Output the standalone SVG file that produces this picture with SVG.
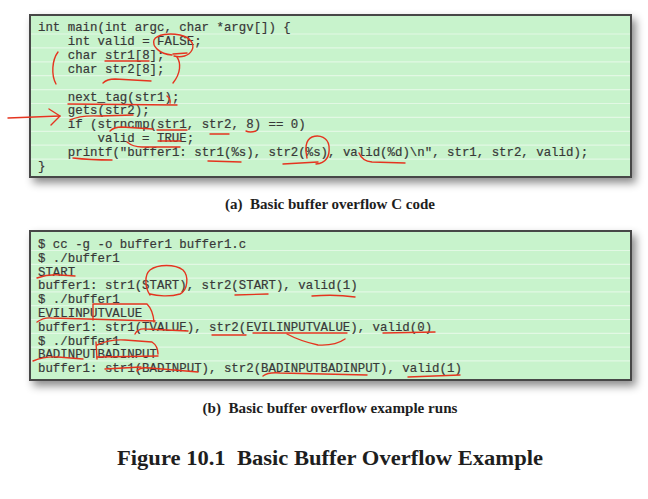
<svg xmlns="http://www.w3.org/2000/svg" width="648" height="499" viewBox="0 0 648 499">
<style>
.box{fill:#c8f3cc;stroke:#474747;stroke-width:2}
.rule{stroke:#e2f8e4;stroke-width:1.2}
.code{font-family:"Liberation Mono","Courier New",monospace;font-size:12.4px;fill:#383838;stroke:#383838;stroke-width:0.2}
.cap{font-family:"Liberation Serif","Times New Roman",serif;font-weight:bold;fill:#1e1e1e;text-anchor:middle;white-space:pre}
.ink{fill:none;stroke:#e5341f;stroke-width:1.4;stroke-linecap:round;stroke-linejoin:round}
</style>
<defs>
<filter id="sh" x="-5%" y="-10%" width="115%" height="130%">
<feDropShadow dx="4" dy="5" stdDeviation="4" flood-color="#000" flood-opacity="0.45"/>
</filter>
</defs>
<rect width="648" height="499" fill="#ffffff"/>

<g id="code-a">
<rect class="box" x="30" y="15" width="601" height="162" filter="url(#sh)"/>
<g class="rule">
<line x1="31" x2="630" y1="34" y2="34"/><line x1="31" x2="630" y1="47.9" y2="47.9"/>
<line x1="31" x2="630" y1="61.8" y2="61.8"/><line x1="31" x2="630" y1="75.7" y2="75.7"/>
<line x1="31" x2="630" y1="89.6" y2="89.6"/><line x1="31" x2="630" y1="103.5" y2="103.5"/>
<line x1="31" x2="630" y1="117.4" y2="117.4"/><line x1="31" x2="630" y1="131.3" y2="131.3"/>
<line x1="31" x2="630" y1="145.2" y2="145.2"/><line x1="31" x2="630" y1="159.1" y2="159.1"/>
</g>
<text class="code" x="38" y="31">int main(int argc, char *argv[]) {</text>
<text class="code" x="67.8" y="44.9">int valid = FALSE;</text>
<text class="code" x="67.8" y="58.8">char str1[8];</text>
<text class="code" x="67.8" y="72.7">char str2[8];</text>
<text class="code" x="67.8" y="100.5">next_tag(str1);</text>
<text class="code" x="67.8" y="114.4">gets(str2);</text>
<text class="code" x="67.8" y="128.3">if (strncmp(str1, str2, 8) == 0)</text>
<text class="code" x="97.5" y="142.2">valid = TRUE;</text>
<text class="code" x="67.8" y="156.1">printf("buffer1: str1(%s), str2(%s), valid(%d)\n", str1, str2, valid);</text>
<text class="code" x="38" y="170">}</text>
</g>

<g id="caption-a">
<text class="cap" x="330" y="209" font-size="15" textLength="210" lengthAdjust="spacingAndGlyphs" xml:space="preserve">(a)  Basic buffer overflow C code</text>
</g>

<g id="code-b">
<rect class="box" x="30" y="231" width="601" height="149" filter="url(#sh)"/>
<g class="rule">
<line x1="31" x2="630" y1="250.5" y2="250.5"/><line x1="31" x2="630" y1="264.3" y2="264.3"/>
<line x1="31" x2="630" y1="278.1" y2="278.1"/><line x1="31" x2="630" y1="291.9" y2="291.9"/>
<line x1="31" x2="630" y1="305.7" y2="305.7"/><line x1="31" x2="630" y1="319.5" y2="319.5"/>
<line x1="31" x2="630" y1="333.3" y2="333.3"/><line x1="31" x2="630" y1="347.1" y2="347.1"/>
<line x1="31" x2="630" y1="360.9" y2="360.9"/>
</g>
<text class="code" x="38" y="248">$ cc -g -o buffer1 buffer1.c</text>
<text class="code" x="38" y="261.8">$ ./buffer1</text>
<text class="code" x="38" y="275.6">START</text>
<text class="code" x="38" y="289.4">buffer1: str1(START), str2(START), valid(1)</text>
<text class="code" x="38" y="303.2">$ ./buffer1</text>
<text class="code" x="38" y="317">EVILINPUTVALUE</text>
<text class="code" x="38" y="330.8">buffer1: str1(TVALUE), str2(EVILINPUTVALUE), valid(0)</text>
<text class="code" x="38" y="344.6">$ ./buffer1</text>
<text class="code" x="38" y="358.4">BADINPUTBADINPUT</text>
<text class="code" x="38" y="372.2">buffer1: str1(BADINPUT), str2(BADINPUTBADINPUT), valid(1)</text>
</g>

<g id="caption-b">
<text class="cap" x="330" y="413" font-size="15" textLength="255" lengthAdjust="spacingAndGlyphs" xml:space="preserve">(b)  Basic buffer overflow example runs</text>
</g>

<g id="title">
<text class="cap" x="330" y="465" font-size="22" textLength="426" lengthAdjust="spacingAndGlyphs" xml:space="preserve">Figure 10.1  Basic Buffer Overflow Example</text>
</g>

<g id="annotations-a" class="ink">
<path d="M172,55 C159,54 152,46 154,40 C157,34 170,33 180,35 C190,37 195,44 192,50 C189,56 181,58 174,56"/>
<path d="M173,54 L187,53"/>
<path d="M177,57 C181,63 181,73 173,83"/>
<path d="M58,52 C52,60 51,75 56,84"/>
<path d="M105,61 L149,61"/>
<path d="M103,83 Q107,79 115,79 L151,81"/>
<path d="M68,104 L177,105"/>
<path d="M167,96 Q171,99 170,103"/>
<path d="M70,120 Q80,115 100,116 L133,115"/>
<path d="M8,118 L60,116"/>
<path d="M49,109 L60,116 L51,125"/>
<path d="M110,131 Q114,127 122,127 L153,129"/>
<path d="M157,130 L187,130"/>
<path d="M210,134 L229,134"/>
<path d="M246,131 Q250,133 256,131"/>
<path d="M127,142 Q133,147 142,147 L180,147"/>
<path d="M158,141 L181,141"/>
<path d="M73,158 Q90,160 112,160"/>
<path d="M208,161 L241,162"/>
<path d="M283,164 L318,162"/>
<path d="M307,158 C305,150 305,140 312,137 C320,134 328,138 329,146 C330,156 326,163 316,164"/>
<path d="M359,153 Q362,161 372,162 L405,163"/>
</g>

<g id="annotations-b" class="ink">
<path d="M37,278 Q48,274 60,275 L75,276"/>
<path d="M150,295 C145,288 144,275 150,270 C158,264 175,264 183,270 C189,276 188,290 180,294 C170,297 157,296 150,294"/>
<path d="M235,295 L268,294"/>
<path d="M312,296 Q335,294 355,297"/>
<path d="M93,320 L93,304 L147,304 Q153,310 154,322"/>
<path d="M37,322 Q44,317 52,318 L155,321"/>
<path d="M135,334 Q138,328 146,329 L188,331"/>
<path d="M212,335 L246,335"/>
<path d="M253,333 L347,333"/>
<path d="M287,334 Q300,341 318,345 Q335,346 345,339"/>
<path d="M383,333 L435,332"/>
<path d="M96,342 L97,359"/>
<path d="M97,345 Q110,339 125,340 L152,342 Q158,346 158,354"/>
<path d="M97,357 L158,356"/>
<path d="M33,361 Q45,356 58,357 L83,359"/>
<path d="M105,369 L141,367"/>
<path d="M137,371 Q140,367 150,368 L198,372"/>
<path d="M263,376 Q268,372 280,373 L367,375"/>
<path d="M408,377 L460,375"/>
</g>
</svg>
